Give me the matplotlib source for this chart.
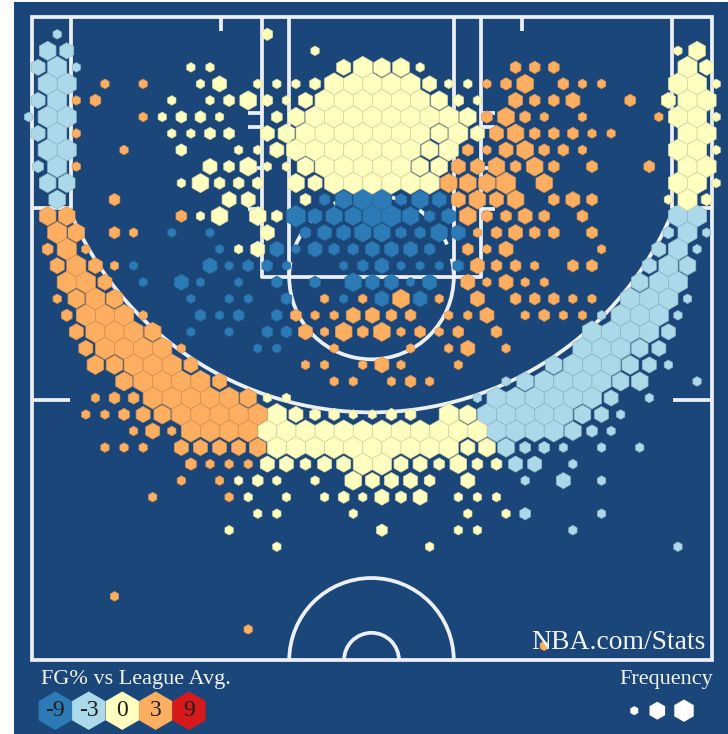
import matplotlib
matplotlib.use('Agg')
import matplotlib.pyplot as plt
from matplotlib.colors import to_rgb
from matplotlib.patches import Arc, Rectangle, RegularPolygon

# shot bins as (row, col, frequency 1-5), grid rows run away from the baseline
blue_bins = [
    (10,26,2),(10,28,4),(10,30,5),(10,32,5),(10,34,2),(10,36,4),(10,38,3),
    (11,23,5),(11,25,3),(11,27,4),(11,29,4),(11,31,5),(11,33,5),(11,35,4),(11,37,2),(11,39,3),
    (12,10,1),(12,14,1),(12,24,2),(12,26,3),(12,28,3),(12,30,4),(12,32,4),(12,34,2),(12,36,2),(12,38,4),(12,40,3),
    (13,15,1),(13,21,3),(13,23,1),(13,25,3),(13,27,2),(13,29,2),(13,31,3),(13,33,3),(13,35,3),(13,37,2),
    (14,6,1),(14,14,3),(14,16,1),(14,18,2),(14,20,2),(14,22,1),(14,28,1),(14,30,2),(14,32,3),(14,34,1),(14,36,1),(14,38,1),(14,40,2),
    (15,7,1),(15,11,3),(15,13,1),(15,17,1),(15,21,2),(15,25,2),(15,29,4),(15,31,3),(15,33,3),(15,35,1),(15,37,3),
    (16,12,1),(16,16,1),(16,18,1),(16,22,2),(16,28,1),(16,32,3),(16,36,3),
    (17,13,2),(17,15,1),(17,17,2),(17,21,2),
    (18,12,1),(18,16,1),(18,20,2),(18,22,2),
    (19,19,1),(19,21,1),
]
light_bins = [
    (0,-2,1),
    (1,-3,4),(1,-1,3),
    (2,-4,3),(2,-2,5),(2,0,1),
    (3,-3,5),(3,-1,5),
    (4,-4,3),(4,-2,5),
    (5,-5,1),(5,-3,5),(5,-1,5),
    (6,-4,3),(6,-2,5),
    (7,-3,5),(7,-1,5),
    (8,-4,2),(8,-2,5),
    (9,-3,4),(9,-1,4),
    (10,-2,4),
    (11,63,5),(11,65,5),
    (12,62,2),(12,64,5),(12,66,1),
    (13,61,3),(13,63,5),(13,65,1),
    (14,60,3),(14,62,5),(14,64,4),
    (15,59,4),(15,61,5),(15,63,5),
    (16,58,5),(16,60,5),(16,62,5),(16,64,1),
    (17,55,1),(17,57,5),(17,59,5),(17,61,5),(17,63,1),
    (18,54,5),(18,56,5),(18,58,5),(18,60,5),(18,62,3),
    (19,53,5),(19,55,5),(19,57,5),(19,59,4),(19,61,3),
    (20,50,4),(20,52,5),(20,54,5),(20,56,5),(20,58,4),(20,60,3),(20,62,1),
    (21,45,1),(21,47,4),(21,49,5),(21,51,5),(21,53,5),(21,55,5),(21,57,4),(21,59,4),(21,65,1),
    (22,42,1),(22,44,5),(22,46,5),(22,48,5),(22,50,5),(22,52,5),(22,54,5),(22,56,3),(22,60,1),
    (23,43,5),(23,45,5),(23,47,5),(23,49,5),(23,51,5),(23,53,4),(23,55,3),(23,57,1),
    (24,44,5),(24,46,5),(24,48,5),(24,50,5),(24,52,4),(24,54,2),(24,56,1),
    (25,45,4),(25,47,2),(25,49,2),(25,51,1),(25,55,1),(25,59,1),
    (26,46,3),(26,48,3),(26,52,1),
    (27,47,1),(27,51,3),(27,55,1),
    (29,47,2),(29,55,1),
    (30,52,1),
    (31,63,1),
]
yellow_bins = [
    (0,20,2),
    (1,25,1),(1,63,1),(1,65,4),
    (2,12,1),(2,14,1),(2,28,3),(2,30,5),(2,32,4),(2,34,4),(2,36,1),(2,64,5),(2,66,3),
    (3,13,1),(3,15,3),(3,19,1),(3,21,1),(3,23,1),(3,25,2),(3,27,5),(3,29,5),(3,31,5),(3,33,5),(3,35,5),(3,37,3),(3,39,1),(3,41,1),(3,63,5),(3,65,5),(3,67,1),
    (4,10,1),(4,14,1),(4,16,2),(4,18,4),(4,20,2),(4,22,1),(4,24,3),(4,26,5),(4,28,5),(4,30,5),(4,32,5),(4,34,5),(4,36,5),(4,38,4),(4,40,2),(4,42,1),(4,62,3),(4,64,5),(4,66,5),
    (5,9,1),(5,11,2),(5,13,2),(5,15,1),(5,21,2),(5,23,4),(5,25,5),(5,27,5),(5,29,5),(5,31,5),(5,33,5),(5,35,5),(5,37,5),(5,39,5),(5,41,4),(5,63,5),(5,65,5),(5,67,1),
    (6,10,1),(6,12,1),(6,14,2),(6,16,2),(6,20,3),(6,22,4),(6,24,5),(6,26,5),(6,28,5),(6,30,5),(6,32,5),(6,34,5),(6,36,5),(6,38,4),(6,40,5),(6,42,3),(6,64,5),(6,66,5),
    (7,11,2),(7,17,1),(7,19,1),(7,21,3),(7,23,5),(7,25,5),(7,27,5),(7,29,5),(7,31,5),(7,33,5),(7,35,5),(7,37,4),(7,39,5),(7,63,5),(7,65,5),(7,67,1),
    (8,14,3),(8,16,2),(8,18,4),(8,20,1),(8,22,1),(8,24,4),(8,26,5),(8,28,5),(8,30,5),(8,32,5),(8,34,5),(8,36,4),(8,38,4),(8,64,5),(8,66,5),
    (9,11,1),(9,13,4),(9,15,2),(9,17,2),(9,19,2),(9,23,4),(9,25,3),(9,27,5),(9,29,5),(9,31,5),(9,33,5),(9,35,5),(9,37,5),(9,63,5),(9,65,5),(9,67,1),
    (10,16,3),(10,18,3),(10,24,2),(10,62,1),(10,64,5),(10,66,2),
    (11,13,1),(11,15,4),(11,19,4),(11,21,2),
    (12,20,3),
    (13,17,1),(13,19,3),
    (22,20,1),(22,22,1),
    (23,21,5),(23,23,3),(23,25,2),(23,27,2),(23,29,1),(23,31,1),(23,33,2),(23,35,2),(23,39,5),(23,41,4),
    (24,20,5),(24,22,5),(24,24,5),(24,26,5),(24,28,5),(24,30,5),(24,32,5),(24,34,5),(24,36,5),(24,38,5),(24,40,5),(24,42,5),
    (25,21,5),(25,23,5),(25,25,5),(25,27,5),(25,29,5),(25,31,5),(25,33,5),(25,35,5),(25,37,5),(25,39,5),(25,41,3),(25,43,4),
    (26,20,3),(26,22,3),(26,24,2),(26,26,3),(26,28,3),(26,30,5),(26,32,5),(26,34,3),(26,36,3),(26,38,2),(26,40,4),(26,42,2),(26,44,2),
    (27,17,1),(27,19,2),(27,21,1),(27,25,1),(27,29,4),(27,31,3),(27,33,3),(27,35,3),(27,37,2),(27,41,3),
    (28,18,1),(28,22,1),(28,26,1),(28,28,2),(28,30,1),(28,32,3),(28,34,2),(28,36,3),(28,40,1),(28,42,1),(28,44,1),
    (29,19,1),(29,21,1),(29,29,1),(29,41,1),(29,45,1),
    (30,16,1),(30,32,2),(30,40,1),(30,42,1),
    (31,21,1),(31,37,1),
]
orange_bins = [
    (3,3,1),(3,7,1),(3,43,1),(3,45,2),(3,47,4),(3,51,2),(3,53,1),(3,55,1),
    (2,46,2),(2,48,2),(2,50,2),
    (4,0,1),(4,2,2),(4,46,3),(4,48,2),(4,50,2),(4,52,3),(4,58,2),
    (5,7,1),(5,43,2),(5,45,4),(5,47,2),(5,49,1),(5,53,1),(5,61,1),
    (6,0,1),(6,44,3),(6,46,4),(6,48,2),(6,50,2),(6,52,2),(6,54,1),(6,56,1),
    (7,5,1),(7,41,2),(7,43,1),(7,45,3),(7,47,4),(7,49,2),(7,51,2),(7,53,1),
    (8,0,1),(8,40,3),(8,42,3),(8,44,4),(8,46,2),(8,48,4),(8,50,2),(8,54,2),(8,60,2),
    (9,39,4),(9,41,4),(9,43,4),(9,45,5),(9,49,4),
    (10,4,2),(10,40,3),(10,42,4),(10,44,3),(10,46,4),(10,50,2),(10,52,3),(10,54,2),
    (11,-3,4),(11,-1,4),(11,11,2),(11,41,4),(11,43,2),(11,45,2),(11,47,3),(11,49,2),(11,53,2),
    (12,-2,5),(12,0,4),(12,4,2),(12,6,1),(12,42,1),(12,44,2),(12,46,3),(12,48,2),(12,50,2),(12,54,2),
    (13,-3,2),(13,-1,5),(13,1,1),(13,41,2),(13,43,1),(13,45,3),(13,55,1),
    (14,-2,3),(14,0,5),(14,2,3),(14,4,1),(14,42,3),(14,44,2),(14,46,2),(14,48,1),(14,52,2),(14,54,2),
    (15,-1,5),(15,1,5),(15,3,3),(15,41,3),(15,43,1),(15,45,3),(15,47,1),(15,49,1),
    (16,-2,1),(16,0,4),(16,2,5),(16,4,4),(16,26,1),(16,30,1),(16,34,4),(16,38,1),(16,42,3),(16,46,2),(16,48,2),(16,50,2),(16,52,1),(16,54,1),
    (17,-1,2),(17,1,5),(17,3,5),(17,5,5),(17,7,1),(17,23,2),(17,25,1),(17,27,1),(17,29,3),(17,31,3),(17,33,2),(17,35,2),(17,39,1),(17,41,1),(17,43,3),(17,47,1),(17,49,2),(17,51,1),(17,53,1),
    (18,0,3),(18,2,5),(18,4,5),(18,6,5),(18,8,4),(18,24,3),(18,26,1),(18,28,4),(18,30,2),(18,32,4),(18,34,1),(18,36,2),(18,38,1),(18,40,2),(18,44,2),
    (19,1,3),(19,3,5),(19,5,5),(19,7,5),(19,9,5),(19,11,1),(19,27,1),(19,35,1),(19,39,1),(19,41,3),(19,45,1),
    (20,2,4),(20,4,4),(20,6,5),(20,8,5),(20,10,5),(20,12,3),(20,24,1),(20,26,1),(20,30,1),(20,32,3),(20,34,1),(20,40,1),
    (21,5,4),(21,7,5),(21,9,5),(21,11,5),(21,13,5),(21,15,3),(21,27,1),(21,29,1),(21,33,1),(21,35,2),(21,37,1),
    (22,2,1),(22,4,2),(22,6,2),(22,8,5),(22,10,5),(22,12,5),(22,14,5),(22,16,5),(22,18,4),
    (23,1,1),(23,3,1),(23,5,2),(23,7,3),(23,9,4),(23,11,5),(23,13,5),(23,15,5),(23,17,5),(23,19,5),
    (24,6,1),(24,8,3),(24,10,1),(24,12,5),(24,14,5),(24,16,5),(24,18,5),
    (25,3,1),(25,5,1),(25,7,1),(25,11,3),(25,13,3),(25,15,3),(25,17,3),(25,19,4),
    (26,12,2),(26,14,1),(26,16,1),(26,18,1),
    (27,11,1),(27,15,1),
    (28,8,1),(28,16,1),
    (34,4,1),(36,18,1),(37,49,1),
]
zone_labels = ['-9', '-3', '0', '3', '9']
zone_colors = ['#2c7bb6', '#abd9e9', '#ffffbf', '#fdae61', '#d7191c']
freq_radius = {1: 4.8, 2: 6.2, 3: 8.1, 4: 9.6, 5: 11.03}  # px

BG = '#1a4679'
LINE = '#ecf0f5'
LW = 2.7
PX = 13.6  # px per foot
X_ZERO, Y_ZERO = 371.5, 17.3  # px of the court origin

plt.rcParams['font.family'] = ['Liberation Serif', 'DejaVu Serif']

fig = plt.figure(figsize=(7.28, 7.34), dpi=100, facecolor='white')
ax = fig.add_axes([0, 0, 1, 1])
ax.set_xlim(-X_ZERO / PX, (728 - X_ZERO) / PX)
ax.set_ylim((734 - Y_ZERO) / PX, -Y_ZERO / PX)
ax.axis('off')
ax.add_patch(Rectangle((-X_ZERO / PX + 14 / PX, -Y_ZERO / PX + 2 / PX), 720 / PX, 740 / PX, color=BG, lw=0))


def court_line(xs, ys, **kw):
    ax.plot(xs, ys, color=LINE, lw=LW, solid_capstyle='butt', zorder=2, **kw)


def court_arc(x, y, r, t1, t2, **kw):
    ax.add_patch(Arc((x, y), 2 * r, 2 * r, theta1=t1, theta2=t2, color=LINE, lw=LW, zorder=2, **kw))


# outer lines
ax.add_patch(Rectangle((-25.0, 0), 50.05, 47.28, fill=False, ec=LINE, lw=LW, zorder=2))
# corner threes
court_line([-22.1, -22.1, -25], [0, 14.02, 14.02])
court_line([22.1, 22.1, 25], [0, 14.02, 14.02])
court_arc(0, 5.05, 24.0, 22.4, 157.6)
# lane
court_line([-8.08, -8.08, 8.08, 8.08], [0, 19.1, 19.1, 0])
court_line([-6.05, -6.05], [0, 19.1])
court_line([6.05, 6.05], [0, 19.1])
court_arc(0, 19.1, 6.05, 0, 180)
ax.add_patch(Arc((0, 19.1), 12.1, 12.1, theta1=180, theta2=360, color=LINE, lw=LW, ls=(0, (4, 4)), zorder=2))
for tick_y in [7.06, 8.07, 11.08, 14.07]:
    court_line([-9.1, -8.08], [tick_y, tick_y])
    court_line([8.08, 9.1], [tick_y, tick_y])
# baseline ticks and sideline marks
court_line([-11.1, -11.1], [0, 1.0])
court_line([11.1, 11.1], [0, 1.0])
court_line([-25, -22.2], [28.16, 28.16])
court_line([22.2, 25], [28.16, 28.16])
# half court circles
court_arc(0, 47.28, 6.05, 180, 360)
court_arc(0, 47.28, 2.02, 180, 360)

# hexbins, sitting on top of the court lines
zones = [(blue_bins, zone_colors[0]), (light_bins, zone_colors[1]),
         (yellow_bins, zone_colors[2]), (orange_bins, zone_colors[3])]
for bins, color in zones:
    edge = tuple(c * 0.85 for c in to_rgb(color))
    for row, col, freq in bins:
        hx = (76.3 + 9.55 * col - X_ZERO) / PX
        hy = (34.3 + 16.53 * row - Y_ZERO) / PX
        ax.add_patch(RegularPolygon((hx, hy), 6, radius=freq_radius[freq] / PX, fc=color,
                                    ec=edge, lw=0.5, zorder=3))

txt = dict(color='#f2f4f7', family=['Liberation Serif', 'DejaVu Serif'], zorder=4)
ax.text((705.5 - X_ZERO) / PX, (649 - Y_ZERO) / PX, 'NBA.com/Stats', fontsize=19.9, ha='right', va='baseline', **txt)
ax.text((41 - X_ZERO) / PX, (684 - Y_ZERO) / PX, 'FG% vs League Avg.', fontsize=16, ha='left', va='baseline', **txt)
ax.text((713.5 - X_ZERO) / PX, (684 - Y_ZERO) / PX, 'Frequency', fontsize=16, ha='right', va='baseline', **txt)

# legends
legend_y = (710.7 - Y_ZERO) / PX
for lx, label, color in zip([55.3, 88.7, 122.3, 155.7, 189.0], zone_labels, zone_colors):
    ax.add_patch(RegularPolygon(((lx - X_ZERO) / PX, legend_y), 6, radius=19.2 / PX, fc=color, lw=0, zorder=3))
    ax.text((lx - X_ZERO) / PX, legend_y + 0.02, label, fontsize=17, ha='center', va='center',
            color='#1c1c1c', family=['Liberation Serif', 'DejaVu Serif'], zorder=4)
for lx, radius in zip([634.3, 657.3, 684.0], [4.6, 9.0, 11.2]):
    ax.add_patch(RegularPolygon(((lx - X_ZERO) / PX, legend_y), 6, radius=radius / PX, fc='white', lw=0, zorder=3))

fig.savefig('out.png', dpi=100, facecolor='white')
